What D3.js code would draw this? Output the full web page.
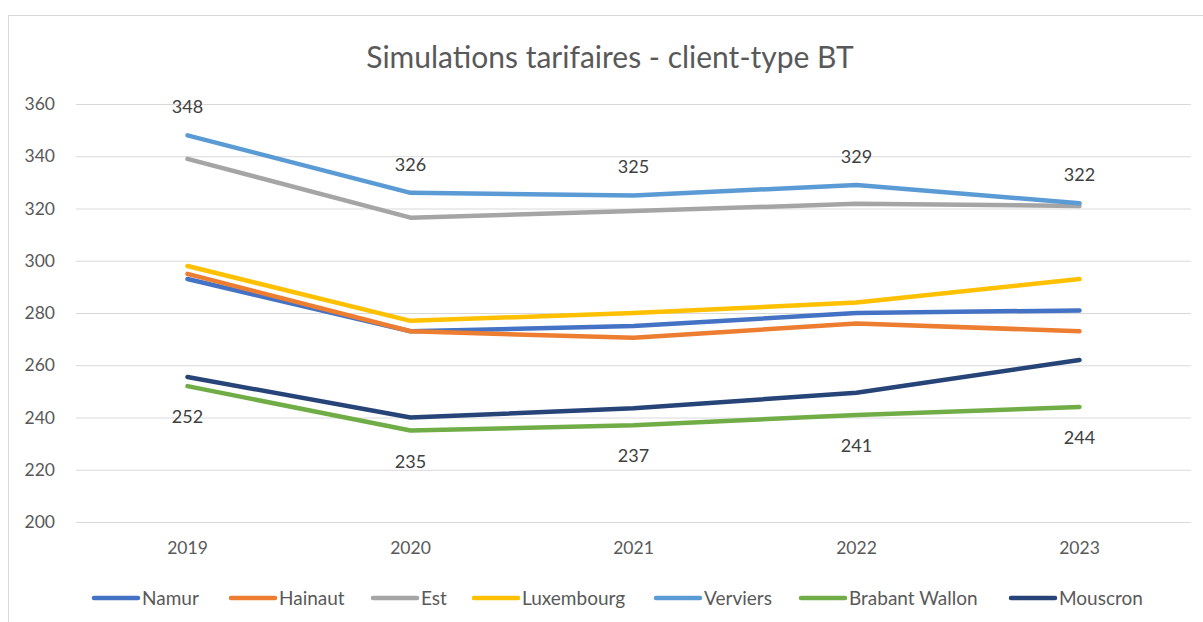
<!DOCTYPE html>
<html>
<head>
<meta charset="utf-8">
<script src="https://cdn.jsdelivr.net/npm/d3@7"></script>
<style>
  body { margin: 0; background: #fff; }
  svg { display: block; }
</style>
</head>
<body>
<div id="chart"></div>
<script>
// Tarifs simulés par GRD, client-type BT
var years = ['2019', '2020', '2021', '2022', '2023'];
var yTicks = [200, 220, 240, 260, 280, 300, 320, 340, 360];
var namur = [293, 273, 275, 280, 281];
var hainaut = [295, 273, 270.5, 276, 273];
var est = [339, 316.5, 319, 321.8, 321];
var luxembourg = [298, 277, 280, 284, 293];
var verviers = [348, 326, 325, 329, 322];
var brabantWallon = [252, 235, 237, 241, 244];
var mouscron = [255.5, 240, 243.5, 249.5, 262];

var series = [
    {name: 'Namur', values: namur, color: '#4472C4'},
    {name: 'Hainaut', values: hainaut, color: '#ED7D31'},
    {name: 'Est', values: est, color: '#A5A5A5'},
    {name: 'Luxembourg', values: luxembourg, color: '#FFC000'},
    {name: 'Verviers', values: verviers, color: '#5B9BD5', labels: 'above'},
    {name: 'Brabant Wallon', values: brabantWallon, color: '#70AD47', labels: 'below'},
    {name: 'Mouscron', values: mouscron, color: '#264478'}
];

var width = 1203, height = 622;
var font = 'Lato, "Open Sans", sans-serif';

var svg = d3.select('#chart').append('svg')
    .attr('width', width)
    .attr('height', height);

// chart frame (right and bottom edges fall outside the picture)
svg.append('rect')
    .attr('x', 8.5).attr('y', 15.5)
    .attr('width', 1300).attr('height', 700)
    .attr('fill', 'none')
    .attr('stroke', '#D9D9D9');

var x = d3.scaleBand().domain(years).range([76, 1191]);
var y = d3.scaleLinear().domain([200, 360]).range([522, 104]);

// gridlines + y labels
var yAxis = svg.append('g')
    .attr('transform', 'translate(76,0)')
    .call(d3.axisLeft(y).tickValues(yTicks).tickSize(-(1191 - 76)).tickPadding(21));
yAxis.select('.domain').remove();
yAxis.selectAll('line').attr('stroke', '#D9D9D9');
yAxis.selectAll('text')
    .style('font-family', font).style('font-size', '17.5px').attr('fill', '#595959');

// x labels
var xAxis = svg.append('g')
    .attr('transform', 'translate(0,522)')
    .call(d3.axisBottom(x).tickSize(0).tickPadding(20));
xAxis.select('.domain').remove();
xAxis.selectAll('text')
    .style('font-family', font).style('font-size', '17.5px').attr('fill', '#595959');

// title
svg.append('text')
    .attr('x', 610).attr('y', 68)
    .attr('text-anchor', 'middle')
    .style('font-family', font).style('font-size', '30px')
    .attr('fill', '#595959')
    .text('Simulations tarifaires - client-type BT');

var line = d3.line()
    .x(function(d, i) { return x(years[i]) + x.bandwidth() / 2; })
    .y(function(d) { return y(d); });

svg.append('g').selectAll('path')
    .data(series)
    .enter().append('path')
    .attr('d', function(s) { return line(s.values); })
    .attr('fill', 'none')
    .attr('stroke', function(s) { return s.color; })
    .attr('stroke-width', 4.5)
    .attr('stroke-linecap', 'round')
    .attr('stroke-linejoin', 'round');

// data labels for the top and bottom series
series.filter(function(s) { return s.labels; }).forEach(function(s) {
    svg.append('g').selectAll('text')
        .data(s.values)
        .enter().append('text')
        .attr('x', function(d, i) { return x(years[i]) + x.bandwidth() / 2; })
        .attr('y', function(d) { return s.labels === 'above' ? y(d) - 22 : y(d) + 37; })
        .attr('text-anchor', 'middle')
        .style('font-family', font).style('font-size', '18px')
        .attr('fill', '#404040')
        .text(function(d) { return d3.format('.0f')(d); });
});

// legend
var legendX = [92, 229, 371, 472, 654, 799, 1009];
var legend = svg.append('g').selectAll('g')
    .data(series)
    .enter().append('g')
    .attr('transform', function(d, i) { return 'translate(' + legendX[i] + ',598)'; });
legend.append('line')
    .attr('x1', 2).attr('x2', 46)
    .attr('stroke', function(d) { return d.color; })
    .attr('stroke-width', 4.5)
    .attr('stroke-linecap', 'round');
legend.append('text')
    .attr('x', 50).attr('dy', '0.35em')
    .style('font-family', font).style('font-size', '19px')
    .attr('fill', '#595959')
    .text(function(d) { return d.name; });
</script>
</body>
</html>
